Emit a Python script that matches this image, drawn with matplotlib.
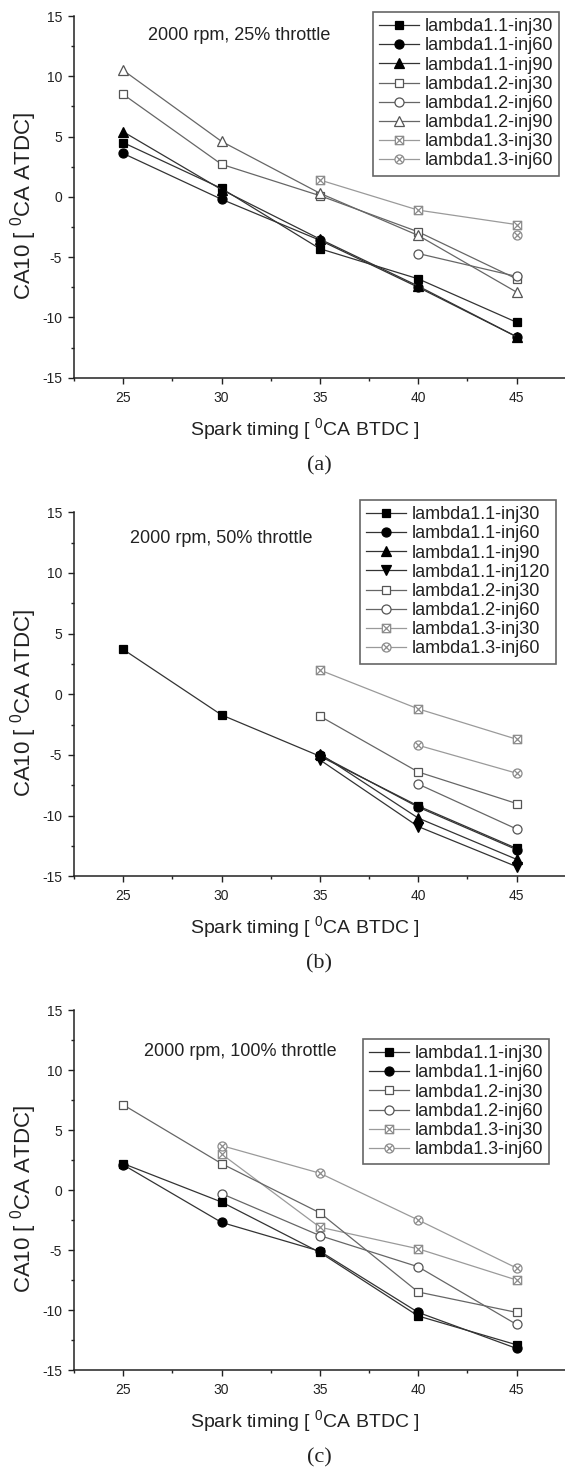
import numpy as np
import matplotlib
matplotlib.use("Agg")
import matplotlib.pyplot as plt
from matplotlib.path import Path
from matplotlib.ticker import MultipleLocator

plt.rcParams['font.family'] = ['Liberation Sans', 'DejaVu Sans']
plt.rcParams['mathtext.fontset'] = 'custom'
plt.rcParams['mathtext.rm'] = 'Liberation Sans'
plt.rcParams['mathtext.it'] = 'Liberation Sans:italic'
plt.rcParams['axes.unicode_minus'] = False

nan = np.nan

# spark timing [deg CA BTDC]
spark = [25, 30, 35, 40, 45]

# (a) 2000 rpm, 25% throttle
a_l11_inj30 = [4.5, 0.7, -4.3, -6.8, -10.4]
a_l11_inj60 = [3.6, -0.2, -3.6, -7.5, -11.6]
a_l11_inj90 = [5.4, 0.6, -3.5, -7.4, -11.6]
a_l12_inj30 = [8.5, 2.7, 0.1, -2.9, -6.8]
a_l12_inj60 = [nan, nan, nan, -4.7, -6.6]
a_l12_inj90 = [10.5, 4.6, 0.3, -3.2, -7.9]
a_l13_inj30 = [nan, nan, 1.4, -1.1, -2.3]
a_l13_inj60 = [nan, nan, nan, nan, -3.2]

# (b) 2000 rpm, 50% throttle
b_l11_inj30 = [3.7, -1.7, -5.1, -9.2, -12.7]
b_l11_inj60 = [nan, nan, -5.0, -9.3, -12.8]
b_l11_inj90 = [nan, nan, -4.9, -10.2, -13.6]
b_l11_inj120 = [nan, nan, -5.4, -10.9, -14.2]
b_l12_inj30 = [nan, nan, -1.8, -6.4, -9.0]
b_l12_inj60 = [nan, nan, nan, -7.4, -11.1]
b_l13_inj30 = [nan, nan, 2.0, -1.2, -3.7]
b_l13_inj60 = [nan, nan, nan, -4.2, -6.5]

# (c) 2000 rpm, 100% throttle
c_l11_inj30 = [2.2, -1.0, -5.2, -10.5, -12.9]
c_l11_inj60 = [2.1, -2.7, -5.1, -10.2, -13.2]
c_l12_inj30 = [7.1, 2.2, -1.9, -8.5, -10.2]
c_l12_inj60 = [nan, -0.3, -3.8, -6.4, -11.2]
c_l13_inj30 = [nan, 3.0, -3.1, -4.9, -7.5]
c_l13_inj60 = [nan, 3.7, 1.4, -2.5, -6.5]

# square with a cross, circle with a cross (Origin style symbols)
box_x = Path([(-1, -1), (1, -1), (1, 1), (-1, 1), (-1, -1), (-1, -1), (1, 1), (-1, 1), (1, -1)],
             [Path.MOVETO, Path.LINETO, Path.LINETO, Path.LINETO, Path.CLOSEPOLY,
              Path.MOVETO, Path.LINETO, Path.MOVETO, Path.LINETO])
d = 0.707
circ_x = Path.make_compound_path(Path.unit_circle(),
                                 Path([(-d, -d), (d, d)], [Path.MOVETO, Path.LINETO]),
                                 Path([(-d, d), (d, -d)], [Path.MOVETO, Path.LINETO]))

groups = {
    '1.1': dict(color='#333333', mec='black', mfc='black', zorder=4),
    '1.2': dict(color='#666666', mec='#555555', mfc='white', zorder=3),
    '1.3': dict(color='#9a9a9a', mec='#8c8c8c', mfc='white', zorder=2),
}
markers = {'inj30': ('s', 6), 'inj60': ('o', 6.5), 'inj90': ('^', 7), 'inj120': ('v', 7)}
markers13 = {'inj30': (box_x, 6), 'inj60': (circ_x, 6.5)}

panels = [
    dict(title='2000 rpm, 25% throttle', cap='(a)', top=16, bot=377.7, txt=(26.25, 13.4),
         leg=(373, 12),
         series=[('1.1', 'inj30', a_l11_inj30), ('1.1', 'inj60', a_l11_inj60),
                 ('1.1', 'inj90', a_l11_inj90), ('1.2', 'inj30', a_l12_inj30),
                 ('1.2', 'inj60', a_l12_inj60), ('1.2', 'inj90', a_l12_inj90),
                 ('1.3', 'inj30', a_l13_inj30), ('1.3', 'inj60', a_l13_inj60)]),
    dict(title='2000 rpm, 50% throttle', cap='(b)', top=512.3, bot=876.3, txt=(25.35, 12.8),
         leg=(360, 500),
         series=[('1.1', 'inj30', b_l11_inj30), ('1.1', 'inj60', b_l11_inj60),
                 ('1.1', 'inj90', b_l11_inj90), ('1.1', 'inj120', b_l11_inj120),
                 ('1.2', 'inj30', b_l12_inj30), ('1.2', 'inj60', b_l12_inj60),
                 ('1.3', 'inj30', b_l13_inj30), ('1.3', 'inj60', b_l13_inj60)]),
    dict(title='2000 rpm, 100% throttle', cap='(c)', top=1010, bot=1370, txt=(26.05, 11.5),
         leg=(363, 1039),
         series=[('1.1', 'inj30', c_l11_inj30), ('1.1', 'inj60', c_l11_inj60),
                 ('1.2', 'inj30', c_l12_inj30), ('1.2', 'inj60', c_l12_inj60),
                 ('1.3', 'inj30', c_l13_inj30), ('1.3', 'inj60', c_l13_inj60)]),
]

W, H = 565, 1470
fig = plt.figure(figsize=(W / 100, H / 100), dpi=100)

for p in panels:
    ax = fig.add_axes([74 / W, 1 - p['bot'] / H, 491.7 / W, (p['bot'] - p['top']) / H])
    for lam, inj, vals in p['series']:
        st = groups[lam]
        mk, ms = (markers13 if lam == '1.3' else markers)[inj]
        ax.plot(spark, vals, marker=mk, ms=ms, lw=0.9, color=st['color'], mec=st['mec'],
                mfc=st['mfc'], mew=0.9, zorder=st['zorder'],
                label='lambda%s-%s' % (lam, inj))

    ax.set_xlim(22.5, 47.5)
    ax.set_ylim(-15, 15)
    ax.xaxis.set_major_locator(MultipleLocator(5))
    ax.xaxis.set_minor_locator(MultipleLocator(2.5))
    ax.yaxis.set_major_locator(MultipleLocator(5))
    ax.yaxis.set_minor_locator(MultipleLocator(2.5))
    for s in ['top', 'right']:
        ax.spines[s].set_visible(False)
    for s in ['left', 'bottom']:
        ax.spines[s].set_linewidth(1.1)
        ax.spines[s].set_color('#222222')
    ax.tick_params(which='major', direction='out', length=4.5, width=1.0, labelsize=10,
                   color='#222222', labelcolor='#222222')
    ax.tick_params(axis='x', which='major', pad=5)
    ax.tick_params(axis='y', which='major', pad=4)
    ax.tick_params(which='minor', direction='out', length=2.5, width=1.0, color='#222222')

    ax.set_xlabel(r'Spark timing [ $^{\mathrm{0}}$CA BTDC ]', fontsize=14, color='#222222')
    ax.xaxis.set_label_coords(0.47, -0.105)
    ax.set_ylabel(r'CA10 [ $^{\mathrm{0}}$CA ATDC]', fontsize=16, color='#222222')
    ax.yaxis.set_label_coords(-0.072, 0.476)

    ax.text(p['txt'][0], p['txt'][1], p['title'], fontsize=13, ha='left', va='center',
            color='#222222')

    leg = ax.legend(loc='upper left', bbox_to_anchor=(p['leg'][0] / W, 1 - p['leg'][1] / H),
                    bbox_transform=fig.transFigure, borderaxespad=0, fontsize=13,
                    frameon=True, fancybox=False, edgecolor='#666666', framealpha=1,
                    labelspacing=0.12, handlelength=2.2, handletextpad=0.3,
                    borderpad=0.35, numpoints=1)
    leg.get_frame().set_linewidth(1.2)
    for t in leg.get_texts():
        t.set_color('#222222')

    fig.text(319 / W, 1 - (p['bot'] + 88) / H, p['cap'], family='Liberation Serif',
             fontsize=16, ha='center', va='center', color='#222222')

fig.savefig('out.png', dpi=100)
